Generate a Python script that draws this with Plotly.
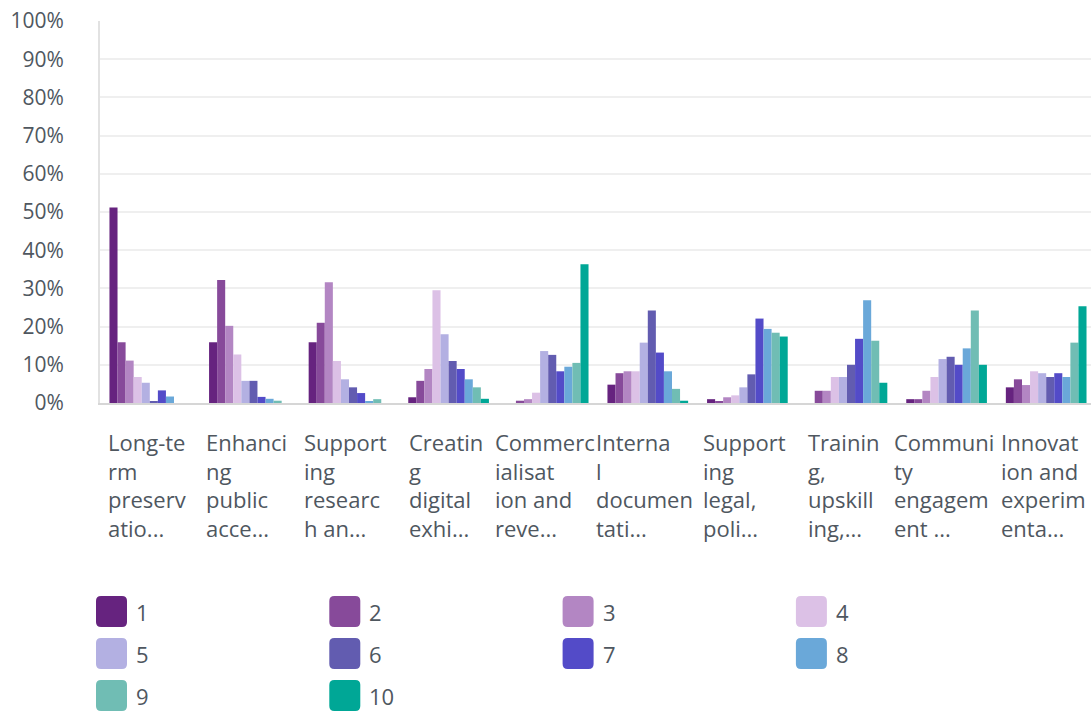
import plotly.graph_objects as go

# Categories (truncated labels, wrapped as shown under each group)
categories = [
    "Long-te<br>rm<br>preserv<br>atio...",
    "Enhanci<br>ng<br>public<br>acce...",
    "Support<br>ing<br>researc<br>h an...",
    "Creatin<br>g<br>digital<br>exhi...",
    "Commerc<br>ialisat<br>ion and<br>reve...",
    "Interna<br>l<br>documen<br>tati...",
    "Support<br>ing<br>legal,<br>poli...",
    "Trainin<br>g,<br>upskill<br>ing,...",
    "Communi<br>ty<br>engagem<br>ent ...",
    "Innovat<br>ion and<br>experim<br>enta...",
]

rank_labels = ["1", "2", "3", "4", "5", "6", "7", "8", "9", "10"]

# Percentage of respondents giving each rank, per category
rank_1 = [51.2, 15.9, 15.9, 1.5, 0.0, 4.8, 1.0, 0.0, 1.0, 4.1]
rank_2 = [15.9, 32.2, 21.0, 5.8, 0.6, 7.8, 0.5, 3.2, 1.0, 6.2]
rank_3 = [11.1, 20.2, 31.6, 8.9, 1.0, 8.3, 1.5, 3.2, 3.2, 4.7]
rank_4 = [6.8, 12.7, 11.0, 29.5, 2.7, 8.3, 2.0, 6.8, 6.8, 8.3]
rank_5 = [5.3, 5.8, 6.2, 18.0, 13.6, 15.8, 4.1, 6.8, 11.5, 7.8]
rank_6 = [0.5, 5.8, 4.1, 11.0, 12.6, 24.2, 7.5, 10.0, 12.1, 6.8]
rank_7 = [3.3, 1.6, 2.6, 8.9, 8.3, 13.2, 22.1, 16.8, 10.0, 7.8]
rank_8 = [1.7, 1.1, 0.5, 6.2, 9.5, 8.3, 19.4, 26.9, 14.3, 6.8]
rank_9 = [0.0, 0.6, 1.0, 4.1, 10.5, 3.7, 18.4, 16.3, 24.2, 15.8]
rank_10 = [0.0, 0.0, 0.0, 1.1, 36.3, 0.6, 17.4, 5.3, 10.0, 25.3]

series = [rank_1, rank_2, rank_3, rank_4, rank_5,
          rank_6, rank_7, rank_8, rank_9, rank_10]

colors = ["#66237f", "#874a9a", "#b386c3", "#dcc1e6", "#b3b0e2",
          "#625cb0", "#534bc8", "#6aa8d9", "#70bdb4", "#00a796"]

y_ticks = [0, 10, 20, 30, 40, 50, 60, 70, 80, 90, 100]

FONT = "Open Sans"
TEXT = "#4f575f"

fig = go.Figure()
x_idx = list(range(len(categories)))
for name, vals, col in zip(rank_labels, series, colors):
    fig.add_trace(go.Bar(
        x=x_idx, y=vals, name=name,
        marker=dict(color=col, line=dict(width=0)),
        showlegend=False,
    ))

# Category labels: block centred under each group, lines left aligned
for i, cat in enumerate(categories):
    fig.add_annotation(
        x=i, y=0, xref="x", yref="paper",
        xanchor="center", yanchor="top", yshift=-22, xshift=-3,
        text=cat, align="left", showarrow=False,
        font=dict(family=FONT, size=22, color=TEXT),
    )

# Legend laid out as a 4-column grid of rounded swatches
W, H = 1091, 711
L, R, T, B = 100, 0, 21, 308
pw, ph = W - L - R, H - T - B


def px_x(px):
    return (px - L) / pw


def px_y(py):
    return (H - B - py) / ph


sw, rad = 31, 5
for k, (name, col) in enumerate(zip(rank_labels, colors)):
    row, colm = divmod(k, 4)
    x0 = 96 + colm * 233.3
    y0 = 596 + row * 42
    x1, y1 = x0 + sw, y0 + sw
    path = (
        f"M {px_x(x0 + rad)},{px_y(y0)} L {px_x(x1 - rad)},{px_y(y0)} "
        f"Q {px_x(x1)},{px_y(y0)} {px_x(x1)},{px_y(y0 + rad)} "
        f"L {px_x(x1)},{px_y(y1 - rad)} "
        f"Q {px_x(x1)},{px_y(y1)} {px_x(x1 - rad)},{px_y(y1)} "
        f"L {px_x(x0 + rad)},{px_y(y1)} "
        f"Q {px_x(x0)},{px_y(y1)} {px_x(x0)},{px_y(y1 - rad)} "
        f"L {px_x(x0)},{px_y(y0 + rad)} "
        f"Q {px_x(x0)},{px_y(y0)} {px_x(x0 + rad)},{px_y(y0)} Z"
    )
    fig.add_shape(type="path", path=path, xref="paper", yref="paper",
                  fillcolor=col, line=dict(width=0))
    fig.add_annotation(
        x=px_x(x1 + 7), y=px_y(y0 + sw / 2), xref="paper", yref="paper",
        xanchor="left", yanchor="middle", text=name, showarrow=False,
        font=dict(family=FONT, size=22, color=TEXT),
    )

fig.update_layout(
    width=W, height=H,
    margin=dict(l=L, r=R, t=T, b=B, pad=0),
    paper_bgcolor="white", plot_bgcolor="white",
    barmode="group", bargap=0.19, bargroupgap=0,
    font=dict(family=FONT, color=TEXT),
    showlegend=False,
)
fig.update_xaxes(
    range=[-0.5, 9.45], showticklabels=False, ticks="",
    showgrid=False, showline=True, linecolor="#d6d6d6", linewidth=2,
    zeroline=False,
)
fig.update_yaxes(
    range=[0, 100], tickvals=y_ticks,
    ticktext=[f"{v}%" for v in y_ticks],
    tickfont=dict(family=FONT, size=21, color=TEXT),
    ticklabelstandoff=30,
    showgrid=True, gridcolor="#efefef", gridwidth=2,
    showline=True, linecolor="#e2e2e2", linewidth=2,
    zeroline=False, ticks="",
)

fig.write_html("out.html")
